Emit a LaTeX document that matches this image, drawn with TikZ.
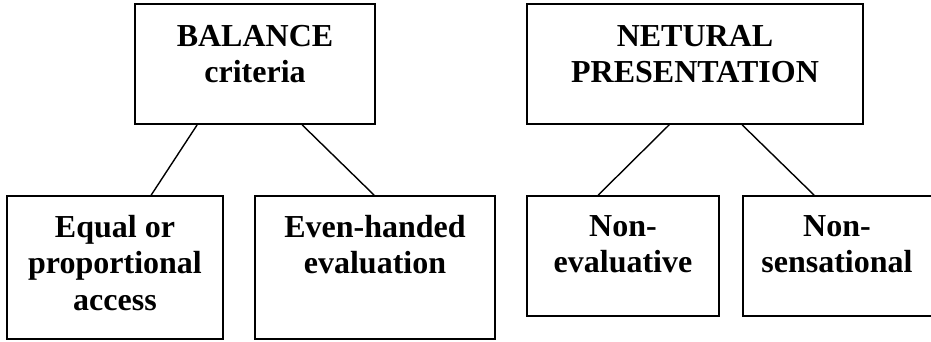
\documentclass[tikz,border=0pt]{standalone}
\usepackage{fontspec}
\setmainfont{Liberation Serif}
\begin{document}
\begin{tikzpicture}[x=1pt,y=-1pt,
  box/.style={draw=black, line width=1.7pt, rectangle, inner sep=0pt},
  lbl/.style={anchor=north, inner sep=0pt, align=center,
    font=\fontsize{32}{36.5}\selectfont\bfseries},
  link/.style={draw=black, line width=1.4pt}]
\useasboundingbox (0,0) rectangle (931,341);

% top-level boxes
\node[box, minimum width=240pt, minimum height=120pt] (bal) at (255,64) {};
\node[box, minimum width=336pt, minimum height=120pt] (neu) at (695,64) {};

% second-level boxes
\node[box, minimum width=216pt, minimum height=143pt] (eq)   at (115,267.5) {};
\node[box, minimum width=240pt, minimum height=143pt] (even) at (375,267.5) {};
\node[box, minimum width=192pt, minimum height=120pt] (noev) at (623,256) {};
\node[box, minimum width=200pt, minimum height=120pt] (nose) at (843,256) {};

% labels
\node[lbl] (balt)  at (255,25)  {BALANCE\\criteria};
\node[lbl] (neut)  at (695,25)  {NETURAL\\PRESENTATION};
\node[lbl] (eqt)   at (115,215) {Equal or\\proportional\\access};
\node[lbl] (event) at (375,215) {Even-handed\\evaluation};
\node[lbl] (noevt) at (623,215) {Non-\\evaluative};
\node[lbl] (noset) at (837,215) {Non-\\sensational};

% connectors
\draw[link] ([xshift=63pt]bal.south west) -- ([xshift=145pt]eq.north west);
\draw[link] ([xshift=168pt]bal.south west) -- ([xshift=120pt]even.north west);
\draw[link] ([xshift=143pt]neu.south west) -- ([xshift=72pt]noev.north west);
\draw[link] ([xshift=216pt]neu.south west) -- ([xshift=72pt]nose.north west);
\end{tikzpicture}
\end{document}
